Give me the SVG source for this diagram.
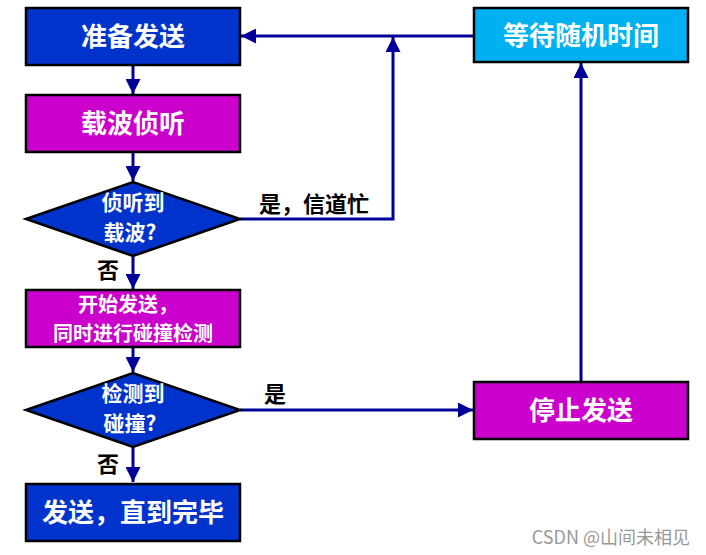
<svg xmlns="http://www.w3.org/2000/svg" width="706" height="555" viewBox="0 0 706 555">
<defs>
<marker id="ah" viewBox="0 0 10 10" refX="10" refY="5" markerWidth="5" markerHeight="5" orient="auto" markerUnits="strokeWidth"><path d="M0,0 L10,5 L0,10 z" fill="#000099"/></marker>
<style>
.box{stroke:#000;stroke-width:2.5}
.blue{fill:#0033CC}.mag{fill:#CC00CC}.cyan{fill:#00B0F0}
.t{font-family:"Noto Sans CJK SC","Liberation Sans",sans-serif;font-weight:bold;fill:#fff;text-anchor:middle}
.l{font-family:"Noto Sans CJK SC","Liberation Sans",sans-serif;font-weight:bold;fill:#000;font-size:22px}
.c{fill:none;stroke:#000099;stroke-width:3}
</style>
</defs>
<rect width="706" height="555" fill="#fff"/>
<g id="connectors">
<path class="c" d="M133,65 V94" marker-end="url(#ah)"/>
<path class="c" d="M133,152 V181" marker-end="url(#ah)"/>
<path class="c" d="M133,256 V289" marker-end="url(#ah)"/>
<path class="c" d="M133,347 V372" marker-end="url(#ah)"/>
<path class="c" d="M133,447 V482" marker-end="url(#ah)"/>
<path class="c" d="M240,219 H393 V37" marker-end="url(#ah)"/>
<path class="c" d="M474,36 H241" marker-end="url(#ah)"/>
<path class="c" d="M240,410 H473" marker-end="url(#ah)"/>
<path class="c" d="M581,382 V63" marker-end="url(#ah)"/>
</g>
<g id="n1"><rect class="box blue" x="26" y="8" width="214" height="57"/><text class="t" x="133" y="46" font-size="26">准备发送</text></g>
<g id="n2"><rect class="box mag" x="26" y="95" width="214" height="57"/><text class="t" x="133" y="133" font-size="26">载波侦听</text></g>
<g id="d1"><polygon class="box blue" points="26,219 133,182 240,219 133,256"/><text class="t" font-size="21"><tspan x="133" y="210">侦听到</tspan><tspan x="130" y="240">载波?</tspan></text></g>
<g id="n3"><rect class="box mag" x="26" y="290" width="214" height="57"/><text class="t" font-size="20"><tspan x="128" y="312">开始发送，</tspan><tspan x="133" y="341">同时进行碰撞检测</tspan></text></g>
<g id="d2"><polygon class="box blue" points="26,410 133,373 240,410 133,447"/><text class="t" font-size="21"><tspan x="133" y="401">检测到</tspan><tspan x="130" y="431">碰撞?</tspan></text></g>
<g id="n4"><rect class="box blue" x="26" y="484" width="214" height="57"/><text class="t" x="133" y="522" font-size="26">发送，直到完毕</text></g>
<g id="n5"><rect class="box cyan" x="474" y="8" width="214" height="54"/><text class="t" x="581" y="45" font-size="26">等待随机时间</text></g>
<g id="n6"><rect class="box mag" x="474" y="382" width="214" height="57"/><text class="t" x="581" y="420" font-size="26">停止发送</text></g>
<g id="labels">
<text class="l" x="259" y="212">是，信道忙</text>
<text class="l" x="264" y="402">是</text>
<text class="l" x="97" y="278">否</text>
<text class="l" x="97" y="472">否</text>
</g>
<text x="690" y="544" text-anchor="end" font-family="'Noto Sans CJK SC','Liberation Sans',sans-serif" font-size="18" fill="#999">CSDN @山间未相见</text>
</svg>
